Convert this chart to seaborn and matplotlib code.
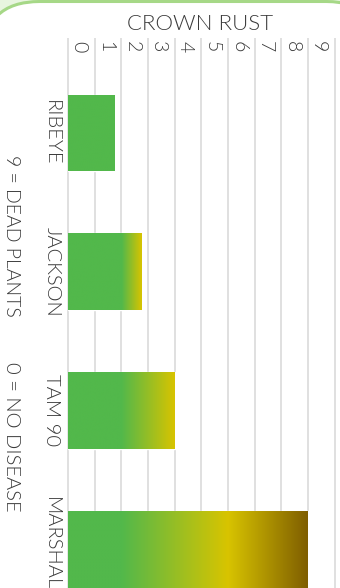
import numpy as np
import pandas as pd
import matplotlib
matplotlib.use("Agg")
import matplotlib.pyplot as plt
import seaborn as sns
from matplotlib.patches import FancyBboxPatch
from matplotlib import font_manager

# ---- data ----
varieties = ["RIBEYE", "JACKSON", "TAM 90", "MARSHALL"]
crown_rust = [1.75, 2.75, 4.0, 9.0]
tick_values = list(range(10))
tick_labels = [str(v) for v in tick_values]
grid_values = list(range(11))
title_text = "CROWN RUST"
note_top = "9 = DEAD PLANTS"
note_bottom = "0 = NO DISEASE"

# ---- style ----
sns.set_style("white")
names = {f.name for f in font_manager.fontManager.ttflist}
FONT = "Lato" if "Lato" in names else "DejaVu Sans"
plt.rcParams["font.family"] = [FONT, "DejaVu Sans"]
WT = 300
plt.rcParams["font.weight"] = WT
TXT = "#3a3a3a"
GREEN = np.array([0x52, 0xB8, 0x4B]) / 255
YELLOW = np.array([0xD8, 0xC4, 0x00]) / 255
BROWN = np.array([0x7F, 0x5E, 0x00]) / 255

W, H = 340, 588
fig = plt.figure(figsize=(W / 100, H / 100), dpi=100, facecolor="#e8f5df")

# background panel with rounded corner
bg = fig.add_axes([0, 0, 1, 1], zorder=0)
bg.set_xlim(0, W)
bg.set_ylim(H, 0)
bg.axis("off")
bg.add_patch(FancyBboxPatch((-17, 1.5), W + 60, H + 100,
                            boxstyle="round,pad=0,rounding_size=57",
                            fc="white", ec="#a6d887", lw=2.2))

# main axes (pixel layout)
ax_l, ax_r, ax_t = 65, 338, 38
ax = fig.add_axes([ax_l / W, 0, (ax_r - ax_l) / W, (H - ax_t) / H], zorder=1)
ax.set_facecolor("none")

df = pd.DataFrame({"variety": varieties, "rating": crown_rust})
sns.barplot(data=df, x="rating", y="variety", orient="h", color=GREEN,
            saturation=1, width=0.555, ax=ax, zorder=2)


def color_at(x, end):
    if x <= 2:
        return GREEN
    if end <= 6:
        t = (x - 2) / (end - 2)
        return GREEN + (YELLOW - GREEN) * t
    if x <= 6:
        t = (x - 2) / 4
        return GREEN + (YELLOW - GREEN) * t
    t = (x - 6) / (end - 6)
    return YELLOW + (BROWN - YELLOW) * t


for p in list(ax.patches):
    x0, y0, w, h = p.get_x(), p.get_y(), p.get_width(), p.get_height()
    end = x0 + w
    xs = np.linspace(x0, end, 400)
    arr = np.array([color_at(x, end) for x in xs])[None, :, :]
    im = ax.imshow(arr, extent=[x0, end, y0 + h, y0], aspect="auto",
                   interpolation="bilinear", zorder=2.5)
    im.set_clip_path(p)

unit = (308 - 68) / 9
ax.set_xlim((ax_l - 68) / unit, (ax_r - 68) / unit)
sp = 138.7
top = -(133 - ax_t) / sp
ax.set_ylim(top + (H - ax_t) / sp, top)
ax.set_aspect("auto")

# grid + ticks
ax.set_xticks(grid_values)
ax.set_xticklabels([])
ax.set_xticks([v + 0.4 for v in tick_values], labels=tick_labels, minor=True)
ax.grid(axis="x", which="major", color="#dadada", lw=1.2)
ax.grid(axis="y", visible=False)
ax.set_axisbelow(True)
ax.tick_params(axis="x", which="both", bottom=False, top=False,
               labelbottom=False, length=0)
ax.tick_params(axis="x", which="minor", labeltop=True, pad=-2,
               labelsize=14, labelcolor=TXT)
for t in ax.xaxis.get_minor_ticks():
    t.label2.set_rotation(-90)
    t.label2.set_va("top")
    t.label2.set_ha("center")
    t.label2.set_fontweight(WT)

ax.tick_params(axis="y", length=0, pad=9.5, labelsize=14.5, labelcolor=TXT)
for lbl in ax.get_yticklabels():
    lbl.set_rotation(-90)
    lbl.set_ha("center")
    lbl.set_va("center")
    lbl.set_fontweight(WT)
ax.set_xlabel("")
ax.set_ylabel("")
for s in ax.spines.values():
    s.set_visible(False)

fig.text(200 / W, 1 - 30 / H, title_text, ha="center", va="baseline",
         fontsize=16, color=TXT, fontweight=WT)
fig.text(11 / W, 1 - 155 / H, note_top, rotation=-90, ha="center", va="top",
         fontsize=14, color=TXT, fontweight=WT)
fig.text(11 / W, 1 - 362 / H, note_bottom, rotation=-90, ha="center", va="top",
         fontsize=14.5, color=TXT, fontweight=WT)

fig.savefig("out.png", dpi=100, facecolor=fig.get_facecolor())
